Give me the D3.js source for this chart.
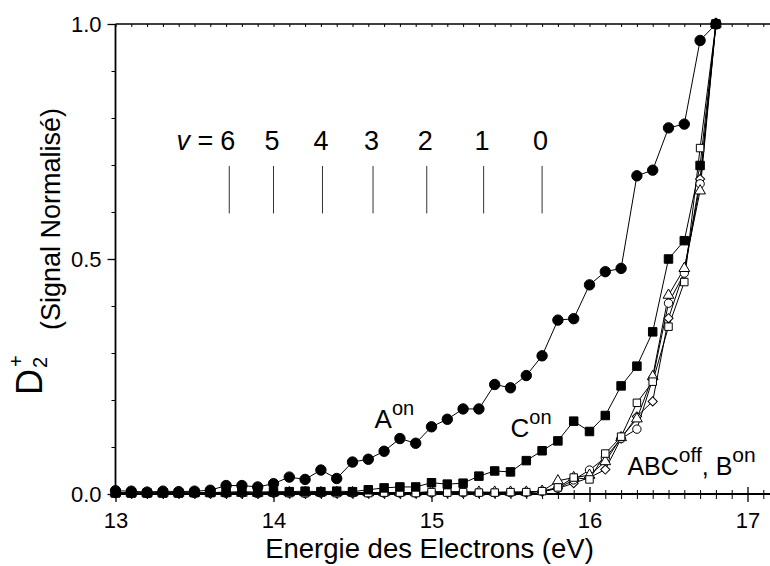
<!DOCTYPE html>
<html><head><meta charset="utf-8">
<script src="https://cdn.jsdelivr.net/npm/d3@7"></script>
<style>body{margin:0;background:#fff}svg{display:block;font-family:"Liberation Sans",Arial,sans-serif}</style>
</head><body><svg id="c" width="770" height="566"></svg>
<script>
// ---- data ----
const energies = [13.0,13.1,13.2,13.3,13.4,13.5,13.6,13.7,13.8,13.9,14.0,14.1,14.2,14.3,14.4,14.5,14.6,14.7,14.8,14.9,15.0,15.1,15.2,15.3,15.4,15.5,15.6,15.7,15.8,15.9,16.0,16.1,16.2,16.3,16.4,16.5,16.6,16.7,16.8];
const aOn = [0.007,0.006,0.004,0.006,0.005,0.006,0.008,0.018,0.018,0.015,0.022,0.036,0.031,0.051,0.033,0.068,0.074,0.091,0.118,0.108,0.143,0.159,0.181,0.181,0.233,0.226,0.252,0.294,0.370,0.373,0.445,0.473,0.480,0.677,0.689,0.779,0.787,0.965,1.0];
const cOn = [0.002,0.002,0.002,0.002,0.002,0.003,0.003,0.004,0.005,0.004,0.005,0.005,0.006,0.005,0.006,0.005,0.009,0.013,0.015,0.015,0.024,0.021,0.023,0.038,0.049,0.047,0.071,0.092,0.113,0.155,0.133,0.167,0.230,0.272,0.345,0.500,0.539,0.699,1.0];
const offSquare = [0.003,0.002,0.002,0.003,0.002,0.002,0.003,0.002,0.003,0.002,0.003,0.002,0.002,0.003,0.002,0.003,0.002,0.003,0.003,0.002,0.004,0.003,0.004,0.003,0.003,0.004,0.004,0.006,0.014,0.035,0.031,0.086,0.122,0.194,0.239,0.356,0.451,0.736,1.0];
const offCircle = [0.002,0.002,0.001,0.002,0.002,0.001,0.002,0.002,0.002,0.001,0.002,0.002,0.001,0.002,0.002,0.002,0.002,0.002,0.002,0.002,0.003,0.003,0.003,0.003,0.003,0.003,0.004,0.006,0.012,0.030,0.051,0.077,0.118,0.138,0.245,0.406,0.470,0.660,1.0];
const offTriangle = [0.002,0.002,0.002,0.002,0.002,0.002,0.002,0.002,0.002,0.002,0.003,0.003,0.003,0.003,0.003,0.003,0.003,0.003,0.003,0.003,0.005,0.005,0.005,0.004,0.004,0.004,0.004,0.006,0.028,0.035,0.040,0.069,0.120,0.160,0.250,0.423,0.480,0.645,1.0];
const offDiamond = [0.001,0.001,0.001,0.001,0.001,0.001,0.001,0.001,0.001,0.001,0.002,0.002,0.002,0.002,0.002,0.002,0.002,0.002,0.002,0.002,0.002,0.002,0.002,0.002,0.002,0.003,0.003,0.005,0.012,0.023,0.035,0.052,0.118,0.165,0.197,0.374,0.474,0.670,1.0];
const vLabels = ["6","5","4","3","2","1","0"];
const vEnergies = [13.72,14.00,14.31,14.63,14.97,15.33,15.70];
const xTicks = [13,14,15,16,17];
const yTicks = [0,0.5,1.0];
const yTickLabels = ["0.0","0.5","1.0"];

// ---- layout ----
const svg = d3.select("#c");
const x = d3.scaleLinear().domain([13,17]).range([115.5,747.5]);
const y = d3.scaleLinear().domain([0,1]).range([494,24]);

const xMinor = d3.range(130,172).map(d=>d/10).filter(d=>!xTicks.includes(d));
const yMinor = d3.range(0,11).map(d=>d/10).filter(d=>!yTicks.includes(d));

const axisG = svg.append("g");
const bx = axisG.append("g").attr("transform",`translate(0,${y(0)})`)
  .call(d3.axisBottom(x).tickValues(xTicks).tickSize(8).tickPadding(10).tickFormat(d3.format("d")));
bx.select(".domain").remove();
bx.selectAll(".tick line").attr("y1",-7).attr("stroke-width",1.3);
bx.selectAll(".tick text").attr("font-size",22).attr("font-family","Liberation Sans, Arial, sans-serif");
const bxm = axisG.append("g").attr("transform",`translate(0,${y(0)})`)
  .call(d3.axisBottom(x).tickValues(xMinor).tickSize(5).tickFormat(""));
bxm.select(".domain").remove();
bxm.selectAll(".tick line").attr("y1",-4).attr("stroke-width",1);
axisG.append("line").attr("x1",x(13)).attr("x2",772).attr("y1",y(0)).attr("y2",y(0)).attr("stroke","#000").attr("stroke-width",1.8);

const tx = axisG.append("g").attr("transform",`translate(0,${y(1)})`)
  .call(d3.axisTop(x).tickValues(xMinor.concat(xTicks)).tickSize(-3).tickFormat(""));
tx.select(".domain").remove();
axisG.append("line").attr("x1",x(13)).attr("x2",772).attr("y1",y(1)).attr("y2",y(1)).attr("stroke","#000").attr("stroke-width",1.5);

const ly = axisG.append("g").attr("transform",`translate(${x(13)},0)`)
  .call(d3.axisLeft(y).tickValues(yTicks).tickSize(8).tickPadding(6).tickFormat((d,i)=>yTickLabels[i]));
ly.select(".domain").remove();
ly.selectAll(".tick line").attr("stroke-width",1.3);
ly.selectAll(".tick text").attr("font-size",22).attr("font-family","Liberation Sans, Arial, sans-serif");
const lym = axisG.append("g").attr("transform",`translate(${x(13)},0)`)
  .call(d3.axisLeft(y).tickValues(yMinor).tickSize(4).tickFormat(""));
lym.select(".domain").remove();
axisG.append("line").attr("x1",x(13)).attr("x2",x(13)).attr("y1",y(0)).attr("y2",y(1)).attr("stroke","#000").attr("stroke-width",1.8);

// ---- series ----
const line = d3.line().x((d,i)=>x(energies[i])).y(d=>y(d));
const series = [
  {vals: offDiamond, shape: d3.symbolSquare, size: 42, rot: 45, fill:"#fff"},
  {vals: offCircle, shape: d3.symbolCircle, size: 55, rot: 0, fill:"#fff"},
  {vals: offTriangle, shape: d3.symbolTriangle, size: 50, rot: 0, fill:"#fff"},
  {vals: offSquare, shape: d3.symbolSquare, size: 56, rot: 0, fill:"#fff"},
  {vals: cOn, shape: d3.symbolSquare, size: 72, rot: 0, fill:"#000"},
  {vals: aOn, shape: d3.symbolCircle, size: 85, rot: 0, fill:"#000"}
];
const dataG = svg.append("g");
series.forEach(s=>{
  dataG.append("path").attr("d",line(s.vals)).attr("fill","none").attr("stroke","#000").attr("stroke-width",1);
});
series.forEach(s=>{
  dataG.selectAll(null).data(s.vals).enter().append("path")
    .attr("transform",(d,i)=>`translate(${x(energies[i])},${y(d)}) rotate(${s.rot})`)
    .attr("d",d3.symbol().type(s.shape).size(s.size))
    .attr("fill",s.fill).attr("stroke","#000").attr("stroke-width",1);
});

// ---- vibrational levels ----
const vG = svg.append("g");
vG.selectAll("line").data(vEnergies).enter().append("line")
  .attr("x1",d=>x(d)).attr("x2",d=>x(d)).attr("y1",y(0.698)).attr("y2",y(0.597))
  .attr("stroke","#333").attr("stroke-width",1);
vG.selectAll("text.v").data(vLabels).enter().append("text").attr("class","v")
  .attr("x",(d,i)=>x(vEnergies[i])-1.5).attr("y",y(0.731)).attr("text-anchor","middle")
  .attr("font-size",27).text(d=>d);
const vt = vG.append("text").attr("x",x(vEnergies[0])-16).attr("y",y(0.731)).attr("text-anchor","end").attr("font-size",27);
vt.append("tspan").attr("font-style","italic").text("v");
vt.append("tspan").text(" =");

// ---- curve labels ----
function supLabel(xv,yv,parts,fs,sfs){
  const t = svg.append("text").attr("x",x(xv)).attr("y",y(yv)).attr("font-size",fs);
  parts.forEach((p,i)=>{
    const sp = t.append("tspan").text(p);
    if(i%2===1){ sp.attr("font-size",sfs).attr("dy",-13); }
    else if(i>0){ sp.attr("dy",13); }
  });
  return t;
}
supLabel(14.64,0.141,["A","on"],26,20);
supLabel(15.50,0.121,["C","on"],26,20);
supLabel(16.24,0.040,["ABC","off",", B","on"],25,21);

// ---- axis titles ----
svg.append("text").attr("x",(x(13)+x(17))/2-2).attr("y",558).attr("text-anchor","middle")
  .attr("font-size",27.5).text("Energie des Electrons (eV)");
const yt = svg.append("g").attr("transform","translate(42,395) rotate(-90)");
yt.append("text").attr("x",0).attr("y",0).attr("font-size",36).text("D");
yt.append("text").attr("x",27).attr("y",5).attr("font-size",20).text("2");
yt.append("text").attr("x",28).attr("y",-19).attr("font-size",20).text("+");
yt.append("text").attr("x",65).attr("y",18).attr("font-size",27).text("(Signal Normalisé)");
</script></body></html>
